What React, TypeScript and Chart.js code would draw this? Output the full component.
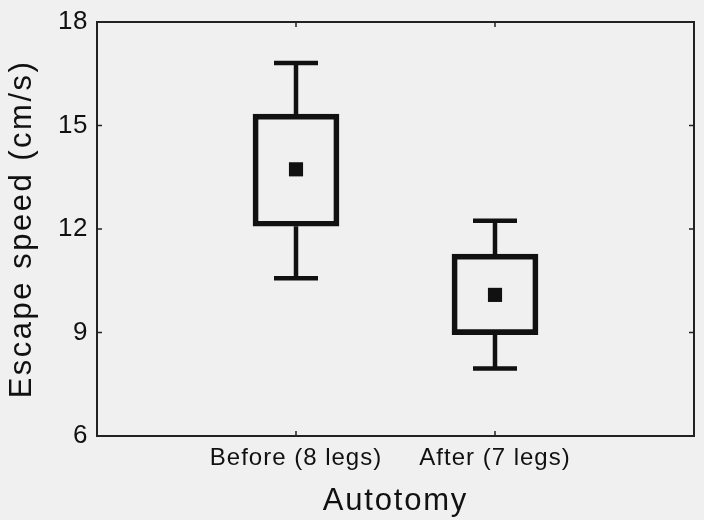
import React, { useEffect, useRef } from "react";
import { Chart, registerables } from "chart.js";

Chart.register(...registerables);

// ---- data ----
const categories = ["Before (8 legs)", "After (7 legs)"];
const categoryPos = [1, 2];
const whiskerLow = [10.57, 7.96];
const boxLow = [12.08, 8.94];
const meanValue = [13.73, 10.09];
const boxHigh = [15.33, 11.27];
const whiskerHigh = [16.81, 12.24];
const yTicks = [6, 9, 12, 15, 18];

const INK = "#111111";
const BG = "#f0f0f0";
const FONT = "'Liberation Sans', Arial, Helvetica, sans-serif";

// letter spacing per text element (the reference type is set loosely)
const SPACING: Record<string, { title: string; labels: string }> = {
  x: { title: "1.8px", labels: "1px" },
  y: { title: "2.5px", labels: "0.5px" },
};

function withSpacing(s: any, key: "drawTitle" | "drawLabels", ls: string) {
  const orig = s[key].bind(s);
  s[key] = (...args: any[]) => {
    const c = s.ctx;
    const prev = c.letterSpacing;
    c.letterSpacing = ls;
    orig(...args);
    c.letterSpacing = prev;
  };
}

const framePlugin = {
  id: "frameAndWhiskers",
  beforeDraw(chart: any) {
    const ctx = chart.ctx;
    ctx.save();
    ctx.fillStyle = BG;
    ctx.fillRect(0, 0, chart.width, chart.height);
    ctx.restore();
    for (const id of Object.keys(SPACING)) {
      const s = chart.scales[id];
      if (s && !s.__spaced) {
        withSpacing(s, "drawTitle", SPACING[id].title);
        withSpacing(s, "drawLabels", SPACING[id].labels);
        s.__spaced = true;
      }
    }
  },
  beforeDatasetsDraw(chart: any) {
    const ctx = chart.ctx;
    const xs = chart.scales.x;
    const ys = chart.scales.y;
    const capHalf = 22;
    ctx.save();
    ctx.strokeStyle = INK;
    ctx.lineWidth = 4.5;
    ctx.lineCap = "butt";
    for (let i = 0; i < categoryPos.length; i++) {
      const px = xs.getPixelForValue(categoryPos[i]);
      const yHi = ys.getPixelForValue(whiskerHigh[i]);
      const yLo = ys.getPixelForValue(whiskerLow[i]);
      const bHi = ys.getPixelForValue(boxHigh[i]);
      const bLo = ys.getPixelForValue(boxLow[i]);
      ctx.beginPath();
      ctx.moveTo(px, bHi);
      ctx.lineTo(px, yHi);
      ctx.moveTo(px, bLo);
      ctx.lineTo(px, yLo);
      ctx.moveTo(px - capHalf, yHi);
      ctx.lineTo(px + capHalf, yHi);
      ctx.moveTo(px - capHalf, yLo);
      ctx.lineTo(px + capHalf, yLo);
      ctx.stroke();
    }
    ctx.restore();
  },
  afterDraw(chart: any) {
    const ctx = chart.ctx;
    const a = chart.chartArea;
    const xs = chart.scales.x;
    const ys = chart.scales.y;
    ctx.save();
    ctx.strokeStyle = "#222222";
    ctx.lineWidth = 2;
    ctx.strokeRect(a.left, a.top, a.right - a.left, a.bottom - a.top);
    ctx.lineWidth = 1.5;
    const tl = 5;
    ctx.beginPath();
    for (const v of yTicks.slice(1, -1)) {
      const py = ys.getPixelForValue(v);
      ctx.moveTo(a.left, py);
      ctx.lineTo(a.left + tl, py);
      ctx.moveTo(a.right, py);
      ctx.lineTo(a.right - tl, py);
    }
    for (const v of categoryPos) {
      const px = xs.getPixelForValue(v);
      ctx.moveTo(px, a.bottom);
      ctx.lineTo(px, a.bottom - tl);
      ctx.moveTo(px, a.top);
      ctx.lineTo(px, a.top + tl);
    }
    ctx.stroke();
    ctx.restore();
  },
};

export default function App() {
  const ref = useRef<HTMLCanvasElement | null>(null);

  useEffect(() => {
    if (!ref.current) return;
    const chart = new Chart(ref.current, {
      type: "bar",
      data: {
        datasets: [
          {
            type: "bar",
            label: "SE box",
            data: categoryPos.map((x, i) => ({ x, y: [boxLow[i], boxHigh[i]] })) as any,
            backgroundColor: "rgba(0,0,0,0)",
            borderColor: INK,
            borderWidth: 5,
            borderSkipped: false,
            barThickness: 86,
            grouped: false,
          } as any,
          {
            type: "scatter",
            label: "Mean",
            data: categoryPos.map((x, i) => ({ x, y: meanValue[i] })),
            pointStyle: "rect",
            pointRadius: 10,
            pointBorderWidth: 0,
            backgroundColor: INK,
            borderColor: INK,
          } as any,
        ],
      },
      options: {
        responsive: false,
        animation: false,
        events: [],
        layout: { padding: { top: 22, right: 8, left: 0, bottom: 0 } },
        plugins: {
          legend: { display: false },
          tooltip: { enabled: false },
        },
        scales: {
          x: {
            type: "linear",
            min: 0,
            max: 3,
            offset: false,
            afterBuildTicks: (s: any) => {
              s.ticks = categoryPos.map((v) => ({ value: v }));
            },
            afterFit: (s: any) => {
              s.height = 84;
              s.paddingLeft = 0;
              s.paddingRight = 0;
            },
            ticks: {
              callback: (v: any) => categories[categoryPos.indexOf(Number(v))] ?? "",
              color: INK,
              font: { family: FONT, size: 24 },
              padding: 8,
              maxRotation: 0,
              autoSkip: false,
            },
            grid: { display: false, drawTicks: false, offset: false },
            border: { display: true, color: "#222222", width: 2 },
            title: {
              display: true,
              text: "Autotomy",
              color: INK,
              font: { family: FONT, size: 31 },
              padding: { top: 0, bottom: 0 },
            },
          },
          y: {
            type: "linear",
            min: yTicks[0],
            max: yTicks[yTicks.length - 1],
            afterBuildTicks: (s: any) => {
              s.ticks = yTicks.map((v) => ({ value: v }));
            },
            afterFit: (s: any) => {
              s.width = 97;
              s.paddingTop = 0;
              s.paddingBottom = 0;
            },
            ticks: {
              color: INK,
              font: { family: FONT, size: 26 },
              padding: 9,
            },
            grid: { display: false, drawTicks: false },
            border: { display: true, color: "#222222", width: 2 },
            title: {
              display: true,
              text: "Escape speed (cm/s)",
              color: INK,
              font: { family: FONT, size: 31 },
              padding: { top: 4, bottom: 0 },
            },
          },
        },
      } as any,
      plugins: [framePlugin],
    });
    return () => chart.destroy();
  }, []);

  return (
    <div
      style={{
        position: "fixed",
        left: 0,
        top: 0,
        width: 704,
        height: 520,
        background: BG,
      }}
    >
      <canvas ref={ref} width={704} height={520} style={{ display: "block" }} />
    </div>
  );
}
